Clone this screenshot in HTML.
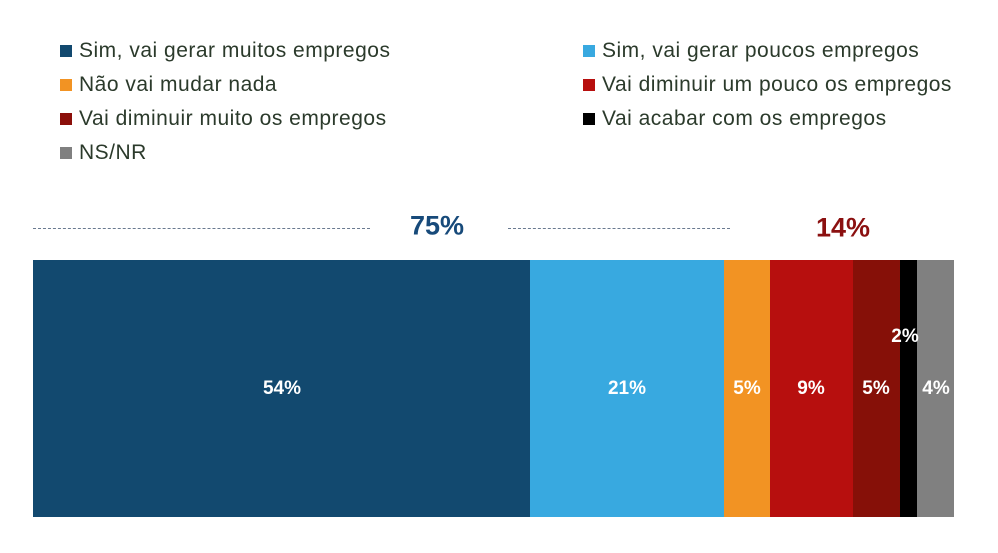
<!DOCTYPE html>
<html><head><meta charset="utf-8"><style>
body{margin:0;width:998px;height:553px;background:#fff;position:relative;overflow:hidden;font-family:"Liberation Sans",sans-serif}
.lg{position:absolute;font-size:21px;letter-spacing:0.5px;color:#2b3a2b;white-space:nowrap;line-height:20px}
.lg i{display:inline-block;width:12px;height:12px;margin-right:7px;vertical-align:0px}
.seg{position:absolute;top:260px;height:257px}
.v{position:absolute;color:#fff;font-weight:bold;font-size:19px;transform:translate(-50%,-50%)}
.ln{position:absolute;top:228px;height:0;border-top:1px dashed #6a7a90}
.big{position:absolute;font-weight:bold;font-size:27px;transform:translate(-50%,-50%)}
</style></head><body>
<div class="lg" style="left:60px;top:41px"><i style="background:#12496f"></i>Sim, vai gerar muitos empregos</div>
<div class="lg" style="left:60px;top:75px"><i style="background:#f29323"></i>Não vai mudar nada</div>
<div class="lg" style="left:60px;top:109px"><i style="background:#8b0f0a"></i>Vai diminuir muito os empregos</div>
<div class="lg" style="left:60px;top:143px"><i style="background:#808080"></i>NS/NR</div>
<div class="lg" style="left:583px;top:41px"><i style="background:#38a9e0"></i>Sim, vai gerar poucos empregos</div>
<div class="lg" style="left:583px;top:75px"><i style="background:#b70f0e"></i>Vai diminuir um pouco os empregos</div>
<div class="lg" style="left:583px;top:109px"><i style="background:#000"></i>Vai acabar com os empregos</div>
<div class="ln" style="left:33px;width:337px"></div>
<div class="ln" style="left:508px;width:222px"></div>
<div class="big" style="left:437px;top:226px;color:#174a7a">75%</div>
<div class="big" style="left:843px;top:228px;color:#8b1010">14%</div>
<div class="seg" style="left:33px;width:497px;background:#12496f"></div>
<div class="seg" style="left:530px;width:194px;background:#38a9e0"></div>
<div class="seg" style="left:724px;width:46px;background:#f29323"></div>
<div class="seg" style="left:770px;width:83px;background:#b70f0e"></div>
<div class="seg" style="left:853px;width:47px;background:#861008"></div>
<div class="seg" style="left:900px;width:17px;background:#000"></div>
<div class="seg" style="left:917px;width:37px;background:#808080"></div>
<div class="v" style="left:282px;top:389px">54%</div>
<div class="v" style="left:627px;top:389px">21%</div>
<div class="v" style="left:747px;top:389px">5%</div>
<div class="v" style="left:811px;top:389px">9%</div>
<div class="v" style="left:876px;top:389px">5%</div>
<div class="v" style="left:905px;top:337px">2%</div>
<div class="v" style="left:936px;top:389px">4%</div>
</body></html>
